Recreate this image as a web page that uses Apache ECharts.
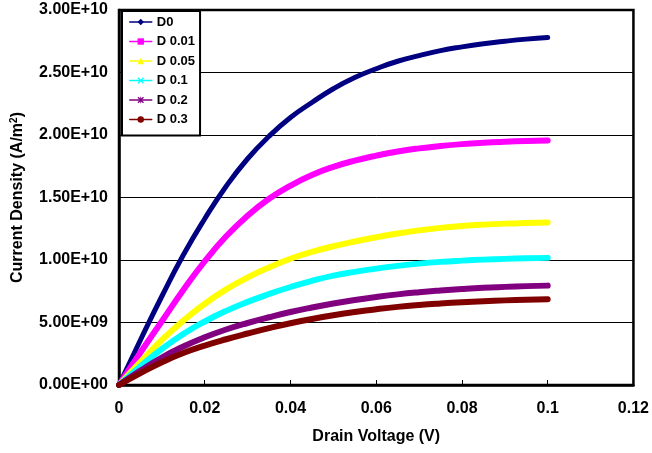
<!DOCTYPE html>
<html><head><meta charset="utf-8">
<script src="https://cdn.jsdelivr.net/npm/echarts@6/dist/echarts.min.js"></script>
<style>html,body{margin:0;padding:0;background:#fff}#c{width:652px;height:453px}</style>
</head><body><div id="c"></div>
<script>
// Drain voltage (V)
const voltage = [0, 0.005, 0.01, 0.015, 0.02, 0.025, 0.03, 0.035, 0.04, 0.045, 0.05,
                 0.055, 0.06, 0.065, 0.07, 0.075, 0.08, 0.085, 0.09, 0.095, 0.1];
// Current density, in units of 1e9 A/m^2
const UNIT = 1e9;
const seriesNames = ['D0', 'D 0.01', 'D 0.05', 'D 0.1', 'D 0.2', 'D 0.3'];
const d0    = [0, 3.6, 7.1, 10.4, 13.3, 15.9, 18.1, 19.9, 21.4, 22.6, 23.7, 24.6, 25.3, 25.9, 26.35, 26.75, 27.05, 27.3, 27.5, 27.67, 27.8];
const d001  = [0, 2.6, 5.1, 7.6, 9.9, 11.9, 13.55, 14.9, 15.95, 16.8, 17.45, 17.95, 18.35, 18.68, 18.93, 19.12, 19.27, 19.38, 19.46, 19.52, 19.56];
const d005  = [0, 1.85, 3.6, 5.15, 6.5, 7.65, 8.6, 9.4, 10.1, 10.65, 11.1, 11.48, 11.82, 12.12, 12.37, 12.57, 12.72, 12.83, 12.91, 12.96, 13.0];
const d01   = [0, 1.5, 2.88, 4.08, 5.08, 5.93, 6.65, 7.28, 7.84, 8.33, 8.75, 9.05, 9.31, 9.53, 9.71, 9.85, 9.95, 10.03, 10.09, 10.14, 10.17];
const d02   = [0, 1.15, 2.2, 3.08, 3.82, 4.44, 4.96, 5.42, 5.84, 6.2, 6.52, 6.8, 7.04, 7.25, 7.42, 7.56, 7.68, 7.78, 7.85, 7.91, 7.95];
const d03   = [0, 0.95, 1.82, 2.56, 3.15, 3.66, 4.12, 4.55, 4.94, 5.28, 5.58, 5.84, 6.06, 6.25, 6.4, 6.52, 6.62, 6.7, 6.77, 6.82, 6.86];
const xTickLabels = ['0', '0.02', '0.04', '0.06', '0.08', '0.1', '0.12'];
const yTickLabels = ['0.00E+00', '5.00E+09', '1.00E+10', '1.50E+10', '2.00E+10', '2.50E+10', '3.00E+10'];

const allData = [d0, d001, d005, d01, d02, d03];
const colors = ['#000080', '#FF00FF', '#FFFF00', '#00FFFF', '#800080', '#800000'];
const widths = [5, 6, 6, 6, 6, 6];
const symbols = [
  'diamond', 'rect', 'triangle',
  'path://M0,1.4 L1.4,0 L10,8.6 L8.6,10 Z M8.6,0 L10,1.4 L1.4,10 L0,8.6 Z',
  'path://M0,1.4 L1.4,0 L10,8.6 L8.6,10 Z M8.6,0 L10,1.4 L1.4,10 L0,8.6 Z M4.3,0 L5.7,0 L5.7,10 L4.3,10 Z',
  'circle'
];
const FONT = "'Liberation Sans', Arial, sans-serif";

const chart = echarts.init(document.getElementById('c'), null, {renderer: 'canvas'});
chart.setOption({
  backgroundColor: '#fff',
  animation: false,
  grid: {left: 119, right: 15, top: 10, bottom: 68, show: true, borderColor: '#000', borderWidth: 2.5, containLabel: false},
  legend: {
    orient: 'vertical', left: 122, top: 11,
    padding: [4, 5, 9, 7],
    backgroundColor: '#fff', borderColor: '#000', borderWidth: 2,
    itemWidth: 22, itemHeight: 8, itemGap: 5.5,
    lineStyle: {width: 1.5},
    textStyle: {fontFamily: FONT, fontWeight: 'bold', fontSize: 13, color: '#000', lineHeight: 14},
    data: seriesNames
  },
  xAxis: {
    type: 'value', min: 0, max: 0.12, interval: 0.02,
    name: 'Drain Voltage (V)', nameLocation: 'middle', nameGap: 44,
    nameTextStyle: {fontFamily: FONT, fontWeight: 'bold', fontSize: 16, color: '#000'},
    axisLine: {show: true, lineStyle: {color: '#000', width: 2.5}},
    axisTick: {show: true, inside: true, length: 5, lineStyle: {color: '#000', width: 1}},
    axisLabel: {margin: 16, fontFamily: FONT, fontWeight: 'bold', fontSize: 16, color: '#000',
      formatter: v => xTickLabels[Math.round(v / 0.02)]},
    splitLine: {show: false}
  },
  yAxis: {
    type: 'value', min: 0, max: 3e10, interval: 5e9,
    name: '{a|Current Density (A/m}{s|2}{a|)}', nameLocation: 'middle', nameGap: 92, nameRotate: 90,
    nameTextStyle: {
      rich: {
        a: {fontFamily: FONT, fontWeight: 'bold', fontSize: 16, color: '#000', lineHeight: 18},
        s: {fontFamily: FONT, fontWeight: 'bold', fontSize: 10, color: '#000', verticalAlign: 'top', lineHeight: 18, padding: [0, 0, 8, 0]}
      }
    },
    axisLine: {show: true, lineStyle: {color: '#000', width: 2.5}},
    axisTick: {show: true, inside: true, length: 5, lineStyle: {color: '#000', width: 1}},
    axisLabel: {margin: 11, fontFamily: FONT, fontWeight: 'bold', fontSize: 16, color: '#000',
      formatter: v => yTickLabels[Math.round(v / 5e9)]},
    splitLine: {show: true, lineStyle: {color: '#000', width: 1}}
  },
  series: allData.map((arr, i) => ({
    name: seriesNames[i],
    type: 'line',
    data: voltage.map((x, k) => [x, arr[k] * UNIT]),
    smooth: 0.5,
    symbol: symbols[i],
    showSymbol: false,
    color: colors[i],
    itemStyle: {color: colors[i]},
    lineStyle: {color: colors[i], width: widths[i], cap: 'round', join: 'round'},
    emphasis: {disabled: true}
  }))
});
</script></body></html>
